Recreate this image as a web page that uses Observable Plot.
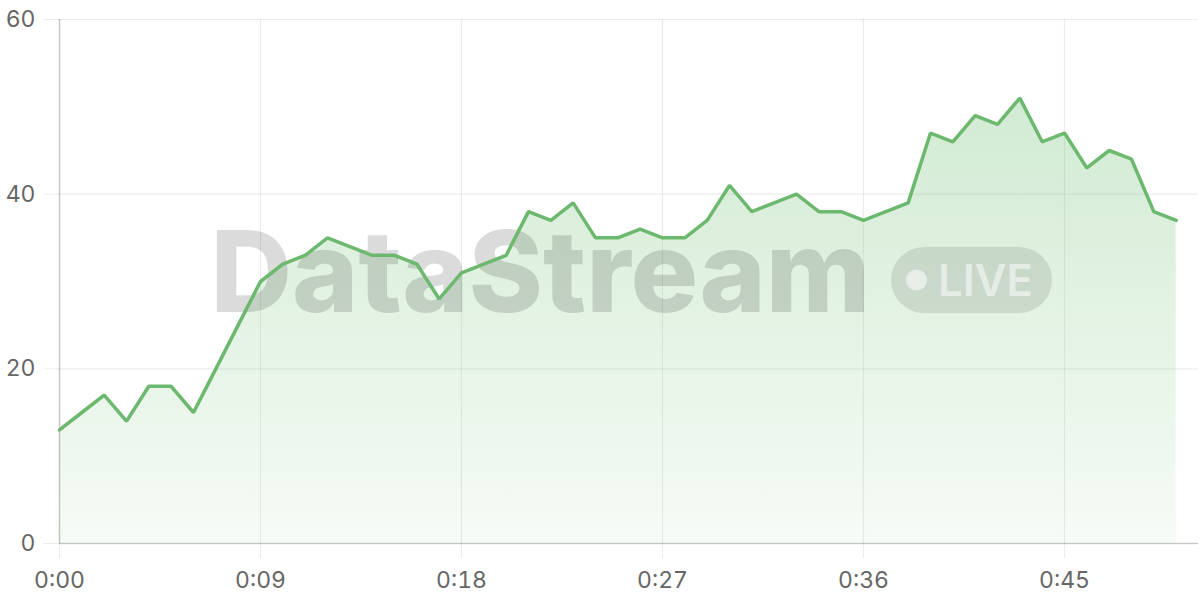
<!DOCTYPE html>
<html>
<head>
<meta charset="utf-8">
<script src="https://cdn.jsdelivr.net/npm/d3@7"></script>
<script src="https://cdn.jsdelivr.net/npm/@observablehq/plot@0.6"></script>
<style>
  html, body { margin: 0; padding: 0; background: #fff; }
  #chart { width: 1200px; height: 600px; }
</style>
</head>
<body>
<div id="chart"></div>
<script>
const seconds = d3.range(0, 51);
const values = [13, 15, 17, 14, 18, 18, 15, 20, 25, 30,
                32, 33, 35, 34, 33, 33, 32, 28, 31, 32,
                33, 38, 37, 39, 35, 35, 36, 35, 35, 37,
                41, 38, 39, 40, 38, 38, 37, 38, 39, 47,
                46, 49, 48, 51, 46, 47, 43, 45, 44, 38, 37];
const xTicks = [0, 9, 18, 27, 36, 45];
const yTicks = [0, 20, 40, 60];
const watermarkText = "DataStream";
const badgeText = "LIVE";

const data = seconds.map((s, i) => ({s, v: values[i]}));
const fmt = s => `${Math.floor(s / 60)}:${String(s % 60).padStart(2, "0")}`;
const green = "#6cb86e";

function gradientDefs() {
  const defs = d3.create("svg:defs");
  const g = defs.append("linearGradient").attr("id", "areaGrad")
    .attr("x1", 0).attr("y1", 0).attr("x2", 0).attr("y2", 1);
  g.append("stop").attr("offset", "0%").attr("stop-color", "#66bb6a").attr("stop-opacity", 0.3);
  g.append("stop").attr("offset", "100%").attr("stop-color", "#66bb6a").attr("stop-opacity", 0.06);
  return defs.node();
}

function watermark(index, scales, values, dims) {
  const cx = (dims.marginLeft + dims.width - dims.marginRight) / 2;
  const cy = (dims.marginTop + dims.height - dims.marginBottom) / 2;
  const g = d3.create("svg:g").attr("pointer-events", "none").attr("text-anchor", "start");
  g.append("text")
    .attr("x", cx - 418).attr("y", cy + 30.5).attr("text-anchor", "start")
    .attr("font-family", "Inter, sans-serif").attr("font-weight", 800)
    .attr("font-size", 113).attr("fill", "#000").attr("fill-opacity", 0.14)
    .attr("textLength", 660).attr("lengthAdjust", "spacingAndGlyphs")
    .text(watermarkText);
  g.append("rect")
    .attr("x", cx + 262.5).attr("y", cy - 34).attr("width", 161).attr("height", 66)
    .attr("rx", 33).attr("fill", "#000").attr("fill-opacity", 0.1);
  g.append("circle")
    .attr("cx", cx + 288).attr("cy", cy - 1).attr("r", 10.5)
    .attr("fill", "#fff").attr("fill-opacity", 0.55);
  g.append("text")
    .attr("x", cx + 309.5).attr("y", cy + 14.5).attr("text-anchor", "start")
    .attr("font-family", "Inter, sans-serif").attr("font-weight", 600)
    .attr("font-size", 44).attr("fill", "#fff").attr("fill-opacity", 0.55)
    .attr("textLength", 95).attr("lengthAdjust", "spacingAndGlyphs")
    .text(badgeText);
  return g.node();
}

const plot = Plot.plot({
  width: 1200,
  height: 600,
  marginLeft: 59,
  marginRight: 2,
  marginTop: 19,
  marginBottom: 57,
  style: {fontFamily: "Inter, sans-serif", fontSize: "23px", color: "#666", background: "#fff"},
  x: {domain: [0, 51], ticks: xTicks, tickFormat: fmt, label: null},
  y: {domain: [0, 60], ticks: yTicks, label: null},
  marks: [
    gradientDefs,
    Plot.gridY(yTicks, {stroke: "#000", strokeOpacity: 0.075, strokeWidth: 1.2}),
    Plot.axisY({ticks: yTicks, tickSize: 16, tickPadding: 8, stroke: "#000", strokeOpacity: 0.075, fill: "#666", fontSize: 23}),
    Plot.gridX(xTicks, {stroke: "#000", strokeOpacity: 0.075, strokeWidth: 1.2}),
    Plot.axisX({ticks: xTicks, tickFormat: fmt, tickSize: 15, tickPadding: 13, stroke: "#000", strokeOpacity: 0.075, fill: "#666", fontSize: 23}),
    Plot.areaY(data, {x: "s", y: "v", fill: "url(#areaGrad)"}),
    watermark,
    Plot.ruleX([0], {stroke: "#000", strokeOpacity: 0.17, strokeWidth: 1.5}),
    Plot.ruleY([0], {stroke: "#000", strokeOpacity: 0.17, strokeWidth: 1.5}),
    Plot.lineY(data, {x: "s", y: "v", stroke: green, strokeWidth: 3.5, strokeLinejoin: "miter"})
  ]
});
document.getElementById("chart").appendChild(plot);
</script>
</body>
</html>
